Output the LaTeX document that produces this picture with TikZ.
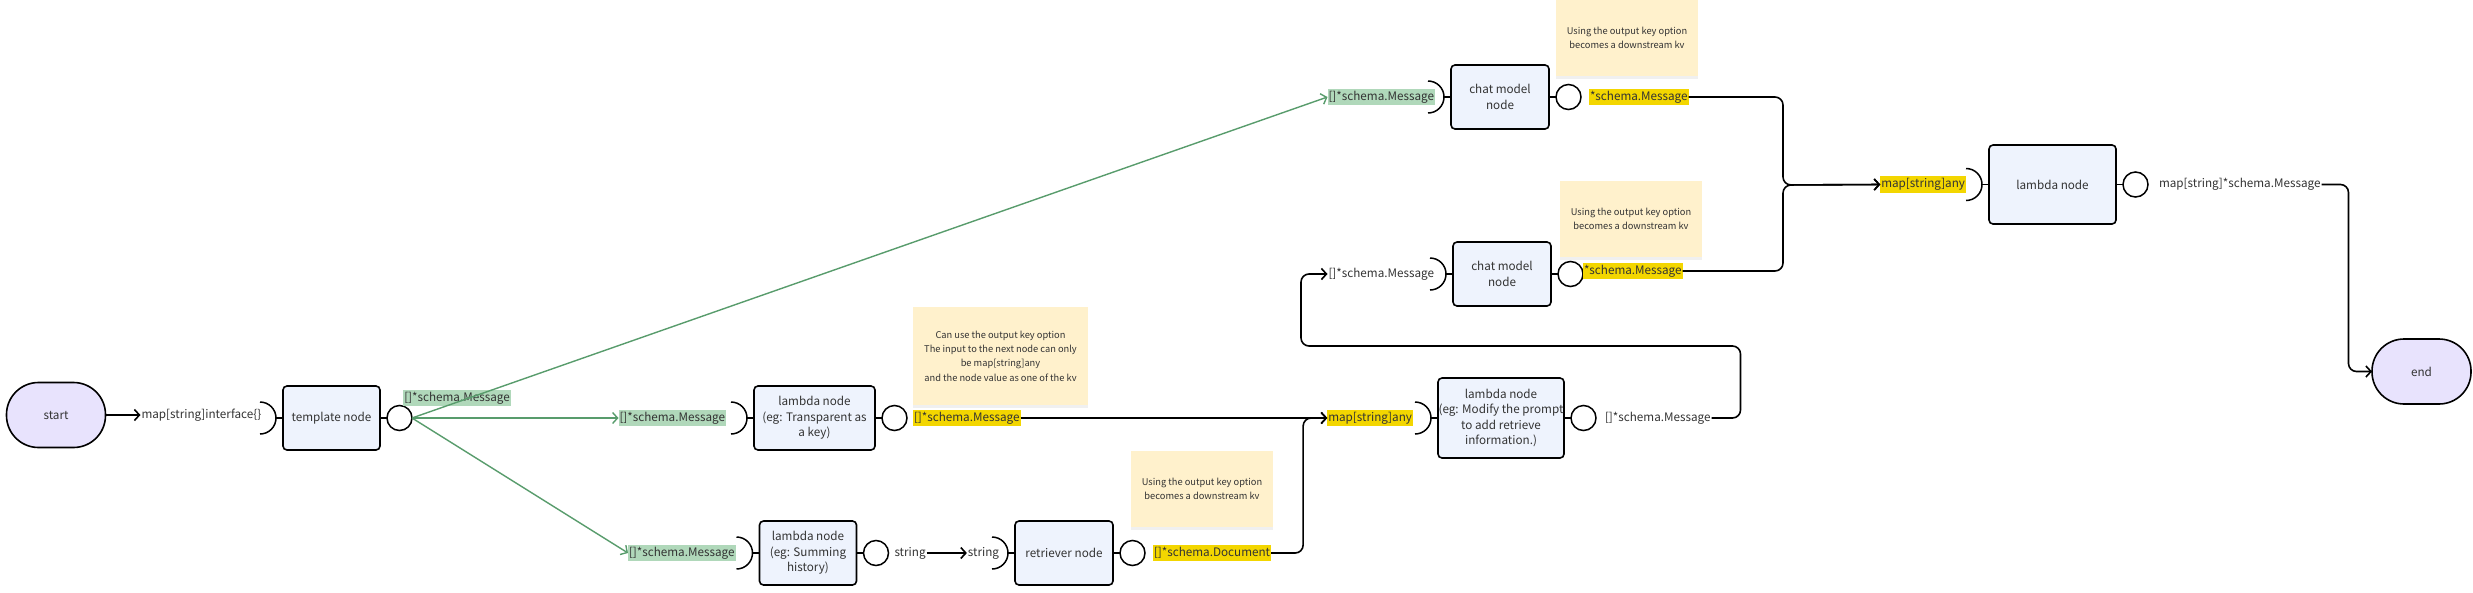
\documentclass[tikz,border=0pt]{standalone}
\usepackage{fontspec}
\setmainfont{Noto Sans CJK SC}
\usetikzlibrary{positioning}
\usetikzlibrary{arrows.meta,shadows}

\definecolor{termfill}{RGB}{232,227,253}
\definecolor{procfill}{RGB}{238,243,253}
\definecolor{msggreen}{RGB}{176,216,186}
\definecolor{linkgreen}{RGB}{88,156,108}
\definecolor{keyyellow}{RGB}{243,214,0}
\definecolor{notefill}{RGB}{255,241,204}
\definecolor{inktext}{RGB}{51,51,51}

\tikzset{
  base/.style={inner sep=0pt, outer sep=0pt, text=inktext, font=\fontsize{11.7}{15.5}\selectfont},
  term/.style={base, draw, line width=1.6pt, fill=termfill, rounded corners=32pt, minimum width=99pt, minimum height=65pt},
  proc/.style={base, draw, line width=1.6pt, fill=procfill, rounded corners=4pt, align=center},
  port/.style={circle, draw, line width=1.5pt, fill=white, minimum size=25pt, inner sep=0pt, outer sep=0pt},
  tag/.style={base, inner xsep=1pt, inner ysep=2pt, text height=9.5pt, text depth=3pt},
  glab/.style={tag, fill=msggreen},
  ylab/.style={tag, fill=keyyellow},
  plab/.style={tag},
  note/.style={base, fill=notefill, align=center, font=\fontsize{9.3}{14.3}\selectfont,
    drop shadow={shadow xshift=0pt, shadow yshift=-3pt, opacity=0.12}},
  link/.style={line width=1.6pt, -{Straight Barb[length=5pt,width=11pt]}, rounded corners=8pt},
  glink/.style={line width=1.4pt, linkgreen, -{Straight Barb[length=5pt,width=11pt]}},
  stub/.style={line width=1.5pt},
}

% input socket: half circle left of a node
\newcommand*\insock[1]{
  \draw[stub] (#1.west) -- ++(-7pt,0pt);
  \draw[stub] ([xshift=-23pt,yshift=16pt]#1.west) arc[start angle=90, end angle=-90, radius=16pt];
}
% output port: small circle right of a node
\newcommand*\outport[2]{
  \node[port, right=7pt of #1] (#2) {};
  \draw[stub] (#1) -- (#2);
}

\begin{document}
\begin{tikzpicture}[x=1pt, y=-1pt]
\useasboundingbox (0,0) rectangle (2473,592);

% notes
\node[note, minimum width=175pt, minimum height=98pt] (keynote) at (1000.5,356)
  {Can use the output key option\\The input to the next node can only\\be map[string]any\\ and the node value as one of the kv};
\node[note, minimum width=142pt, minimum height=76pt] (docnote) at (1202,489)
  {Using the output key option\\becomes a downstream kv};
\node[note, minimum width=142pt, minimum height=76pt] (chatnote1) at (1627,38)
  {Using the output key option\\becomes a downstream kv};
\node[note, minimum width=142pt, minimum height=76pt] (chatnote2) at (1631,219)
  {Using the output key option\\becomes a downstream kv};

% nodes
\node[term] (start) at (56,415) {start};
\node[proc, minimum width=97pt, minimum height=64pt] (tpl) at (331.5,418) {template node};
\node[proc, minimum width=121pt, minimum height=64pt] (lam1) at (814.5,418) {lambda node\\(eg: Transparent as\\a key)};
\node[proc, minimum width=97pt, minimum height=64pt] (lam2) at (808,553) {lambda node\\(eg: Summing\\history)};
\node[proc, minimum width=98pt, minimum height=64pt] (ret) at (1064,553) {retriever node};
\node[proc, minimum width=126pt, minimum height=80pt] (lam3) at (1501,418) {lambda node\\(eg: Modify the prompt\\to add retrieve\\information.)};
\node[proc, minimum width=98pt, minimum height=64pt] (chat1) at (1500,97) {chat model\\node};
\node[proc, minimum width=98pt, minimum height=64pt] (chat2) at (1502,274) {chat model\\node};
\node[proc, minimum width=127pt, minimum height=79pt] (lam4) at (2052.5,184.5) {lambda node};
\node[term] (finish) at (2421.5,371.5) {end};

% ports
\outport{tpl}{tplout}
\outport{lam1}{lam1out}
\outport{lam2}{lam2out}
\outport{ret}{retout}
\outport{lam3}{lam3out}
\outport{chat1}{chat1out}
\outport{chat2}{chat2out}
\outport{lam4}{lam4out}

% input labels
\node[plab, right=35pt of start] (tplin) {map[string]interface\{\}};
\node[glab, left=28pt of lam1] (lam1in) {[]*schema.Message};
\node[glab, left=24pt of lam2] (lam2in) {[]*schema.Message};
\node[plab, left=15pt of ret] (retin) {string};
\node[ylab, left=25pt of lam3] (lam3in) {map[string]any};
\node[glab, left=16pt of chat1] (chat1in) {[]*schema.Message};
\node[plab, left=18pt of chat2] (chat2in) {[]*schema.Message};
\node[ylab, left=23pt of lam4] (lam4in) {map[string]any};

% output labels
\node[glab] (tplmsg) at (457,398) {[]*schema.Message};
\node[ylab, right=6pt of lam1out] (lam1msg) {[]*schema.Message};
\node[plab, right=5pt of lam2out] (lam2str) {string};
\node[ylab, right=8pt of retout] (retdoc) {[]*schema.Document};
\node[plab, right=8pt of lam3out] (lam3msg) {[]*schema.Message};
\node[ylab, right=8pt of chat1out] (chat1msg) {*schema.Message};
\node[ylab, right=0pt of chat2out, yshift=3pt] (chat2msg) {*schema.Message};
\node[plab, right=10pt of lam4out] (lam4map) {map[string]*schema.Message};

\coordinate (loopback) at (1301,346);
\coordinate (merge) at (1783,185);

% connectors
\draw[link] (start) -- (tplin);
\draw[glink] (tplout.east) -- (chat1in.west);
\draw[glink] (tplout.east) -- (lam1in.west);
\draw[glink] (tplout.east) -- (lam2in.west);
\draw[link] (lam1msg.east) -- (lam3in.west);
\draw[link] (lam2str.east) -- (retin.west);
\draw[link] (retdoc.east) -- ++(32,0) |- (lam3in.west);
\draw[link] (lam3msg.east) -- ++(29,0) |- (loopback) |- (chat2in.west);
\draw[link] (chat1msg.east) -| (merge) -- (lam4in.west);
\draw[link] (chat2msg.east) -| (merge) -- (lam4in.west);
\draw[link] (lam4map.east) -- ++(27,0) |- (finish.west);

% sockets
\insock{tpl}
\insock{lam1}
\insock{lam2}
\insock{ret}
\insock{lam3}
\insock{chat1}
\insock{chat2}
\insock{lam4}

\end{tikzpicture}
\end{document}
